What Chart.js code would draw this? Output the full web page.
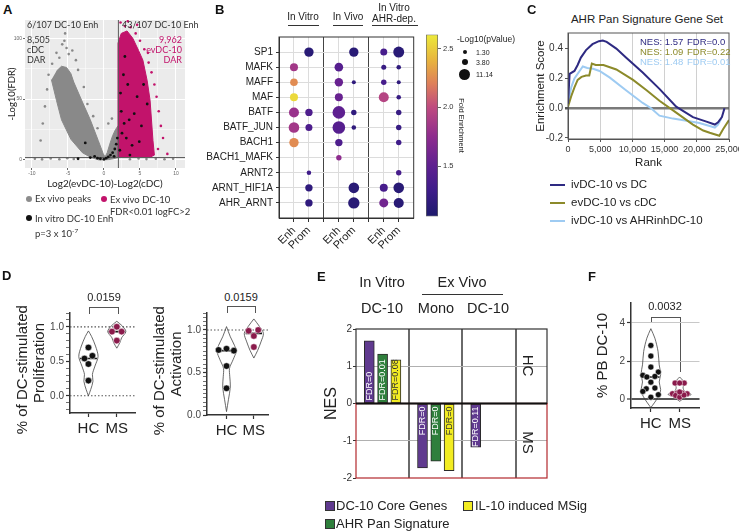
<!DOCTYPE html>
<html>
<head>
<meta charset="utf-8">
<title>DC-10 / AHR figure</title>
<script src="https://cdn.jsdelivr.net/npm/chart.js@4.4.1/dist/chart.umd.min.js"></script>
<style>
  body { margin: 0; width: 739px; height: 531px; position: relative; overflow: hidden; background: #fff;
         font-family: "Liberation Sans", Arial, sans-serif; color: #222; }
  .box { position: absolute; }
  .t { position: absolute; white-space: nowrap; line-height: 1; }
  .c { text-align: center; }
  .letter { font-weight: bold; font-size: 13px; color: #111; }
  .lato { font-family: Lato, "Open Sans", sans-serif; color: #333; }
  .dot { position: absolute; border-radius: 50%; }
  .rule { position: absolute; height: 0; border-top: 1px solid #333; }
  .sq { position: absolute; width: 8px; height: 8px; border: 1px solid #333; }
  .ln { position: absolute; height: 2px; width: 15px; }
  .brk { position: absolute; border: 1px solid #555; border-bottom: none; }
</style>
</head>
<body>

<!-- A -->
<div class="t letter" style="left:3px;top:3px">A</div>
<div class="box" style="left:0;top:10px;width:190px;height:184px"><canvas id="volcano"></canvas></div>
<div class="t lato" style="left:27px;top:20px;font-size:9px">6/107 DC-10 Enh</div>
<div class="t lato" style="left:122px;top:20px;font-size:9px">43/107 DC-10 Enh</div>
<div class="t lato" style="left:27px;top:35px;font-size:9px;line-height:10px">8,505<br>cDC<br>DAR</div>
<div class="t lato" style="right:557px;top:35px;font-size:9px;line-height:10px;text-align:right;color:#c2136b">9,962<br>evDC-10<br>DAR</div>
<div class="dot" style="left:26px;top:196px;width:6px;height:6px;background:#8c8c8c"></div>
<div class="t lato" style="left:35px;top:194px;font-size:9.5px">Ex vivo peaks</div>
<div class="dot" style="left:101px;top:196px;width:6px;height:6px;background:#c2136b"></div>
<div class="t lato" style="left:110px;top:194px;font-size:9.5px;line-height:12px">Ex vivo DC-10<br>FDR&lt;0.01 logFC&gt;2</div>
<div class="dot" style="left:26px;top:215px;width:6px;height:6px;background:#111"></div>
<div class="t lato" style="left:35px;top:213px;font-size:9.5px;line-height:12px">In vitro DC-10 Enh<br>p=3 x 10<span style="font-size:6.5px;vertical-align:4px">-7</span></div>

<!-- B -->
<div class="t letter" style="left:215px;top:3px">B</div>
<div class="t c" style="left:273px;top:12px;width:60px;font-size:10px">In Vitro</div>
<div class="rule" style="left:288px;top:25px;width:31px"></div>
<div class="t c" style="left:318px;top:12px;width:60px;font-size:10px">In Vivo</div>
<div class="rule" style="left:333px;top:25px;width:30px"></div>
<div class="t c" style="left:359px;top:2px;width:70px;font-size:10px;line-height:11px">In Vitro<br>AHR-dep.</div>
<div class="rule" style="left:372px;top:25px;width:46px"></div>
<div class="box" style="left:196px;top:28px;width:224px;height:232px"><canvas id="motifs"></canvas></div>
<div class="box" style="left:420px;top:28px;width:50px;height:195px"><canvas id="foldbar"></canvas></div>
<div class="t" style="left:457px;top:35px;font-size:8.5px">-Log10(pValue)</div>
<div class="dot" style="left:463px;top:50px;width:4px;height:4px;background:#111"></div>
<div class="dot" style="left:462px;top:59px;width:6px;height:6px;background:#111"></div>
<div class="dot" style="left:459px;top:69px;width:11px;height:11px;background:#111"></div>
<div class="t" style="left:476px;top:49px;font-size:7px">1.30</div>
<div class="t" style="left:476px;top:59px;font-size:7px">3.80</div>
<div class="t" style="left:476px;top:71px;font-size:7px">11.14</div>

<!-- C -->
<div class="t letter" style="left:527px;top:3px">C</div>
<div class="t c" style="left:567px;top:14px;width:160px;font-size:11.5px">AHR Pan Signature Gene Set</div>
<div class="box" style="left:530px;top:25px;width:209px;height:147px"><canvas id="gsea"></canvas></div>
<div class="t" style="left:640px;top:37px;font-size:9.5px;color:#2e2a82">NES: 1.57</div>
<div class="t" style="left:687px;top:37px;font-size:9.5px;color:#2e2a82">FDR=0.0</div>
<div class="t" style="left:640px;top:47px;font-size:9.5px;color:#8c8a2a">NES: 1.09</div>
<div class="t" style="left:687px;top:47px;font-size:9.5px;color:#8c8a2a">FDR=0.22</div>
<div class="t" style="left:640px;top:57px;font-size:9.5px;color:#9ecbf2">NES: 1.48</div>
<div class="t" style="left:687px;top:57px;font-size:9.5px;color:#9ecbf2">FDR=0.01</div>
<div class="ln" style="left:550px;top:184px;background:#2e2a82"></div>
<div class="t" style="left:571px;top:179px;font-size:11.5px">ivDC-10 vs DC</div>
<div class="ln" style="left:550px;top:202px;background:#8c8a2a"></div>
<div class="t" style="left:571px;top:197px;font-size:11.5px">evDC-10 vs cDC</div>
<div class="ln" style="left:550px;top:220px;background:#9ecbf2"></div>
<div class="t" style="left:571px;top:215px;font-size:11.5px">ivDC-10 vs AHRinhDC-10</div>

<!-- D -->
<div class="t letter" style="left:2px;top:269px">D</div>
<div class="t c" style="left:79px;top:292px;width:50px;font-size:11px">0.0159</div>
<div class="brk" style="left:89px;top:307px;width:28px;height:6px"></div>
<div class="box" style="left:0;top:305px;width:140px;height:135px"><canvas id="prolif"></canvas></div>
<div class="t c" style="left:216px;top:292px;width:50px;font-size:11px">0.0159</div>
<div class="brk" style="left:227px;top:306px;width:27px;height:6px"></div>
<div class="box" style="left:145px;top:305px;width:128px;height:137px"><canvas id="activ"></canvas></div>

<!-- E -->
<div class="t letter" style="left:317px;top:270px">E</div>
<div class="t c" style="left:347px;top:275px;width:70px;font-size:14.5px">In Vitro</div>
<div class="t c" style="left:427px;top:275px;width:70px;font-size:14.5px">Ex Vivo</div>
<div class="rule" style="left:422px;top:294px;width:81px"></div>
<div class="t c" style="left:347px;top:301px;width:70px;font-size:14.5px">DC-10</div>
<div class="t c" style="left:406px;top:301px;width:60px;font-size:14.5px">Mono</div>
<div class="t c" style="left:458px;top:301px;width:60px;font-size:14.5px">DC-10</div>
<div class="box" style="left:310px;top:320px;width:240px;height:165px"><canvas id="nes"></canvas></div>
<div class="t c" style="left:513px;top:358px;width:30px;font-size:15px;transform:rotate(90deg)">HC</div>
<div class="t c" style="left:513px;top:435px;width:30px;font-size:15px;transform:rotate(90deg)">MS</div>
<div class="sq" style="left:325px;top:501px;background:#603a8f"></div>
<div class="t" style="left:336px;top:499px;font-size:13px">DC-10 Core Genes</div>
<div class="sq" style="left:463px;top:501px;background:#f2ec22"></div>
<div class="t" style="left:475px;top:499px;font-size:13px">IL-10 induced MSig</div>
<div class="sq" style="left:325px;top:519px;background:#2f7f3c"></div>
<div class="t" style="left:336px;top:517px;font-size:13px">AHR Pan Signature</div>

<!-- F -->
<div class="t letter" style="left:588px;top:270px">F</div>
<div class="t c" style="left:640px;top:301px;width:50px;font-size:11px">0.0032</div>
<div style="position:absolute;left:651px;top:317px;width:29px;height:5px;border-top:1px solid #555;border-left:1px solid #555"></div>
<div style="position:absolute;left:680px;top:317px;width:0;height:55px;border-left:1px solid #555"></div>
<div class="box" style="left:590px;top:295px;width:114px;height:140px"><canvas id="pbdc"></canvas></div>

<script>
// ---- A: ex vivo volcano (log2 FC evDC-10 vs cDC, -log10 FDR) ----
const volcX = [-10.97, 11.25];
const volcY = [-6.6, 115];
const volcXTicks = [-10, -7.5, -5, -2.5, 0, 2.5, 5, 7.5, 10];
const volcYTicks = [0, 25, 50, 75, 100];
const logFcCut = 2;
const fdrCut = 2;
// outline of the dense grey (ex vivo peaks) cloud
const grayCloud = [[-7.3,66],[-6.6,49],[-5.9,33],[-4.6,17],[-3.0,6],[-1.8,2],[-0.7,0],[0.6,0.3],[1.3,1],[1.95,2],
  [1.95,28],[1.6,25],[1.2,20],[0.8,13],[0.45,6],[0.15,2.5],[-0.1,5],[-0.8,16],[-1.9,33],[-3.1,49],[-4.2,64],
  [-4.6,71],[-5.2,76],[-5.9,77],[-6.6,73]];
const grayPeaks = [[-5.4,104],[-5.5,98],[-5.2,92],[-4.9,87],[-6.2,84],[-6.6,88],[-5.8,95],[-4.4,90],[-3.9,82],
  [-7.2,79],[-7.7,70],[-3.6,74],[-7.9,58],[-8.2,44],[-8.5,30],[-2.8,60],[-2.3,46],[-1.5,36],[-0.9,26],[-8.8,16],
  [-9.6,1],[-8.6,0.5],[-7.4,1.2],[-6.2,0.6],[-5.1,1.4],[-4.2,0.8],[3.6,0.6],[4.8,1.2],[5.9,0.7],[7.2,1.0],
  [8.4,0.6],[9.6,1.1],[0.6,30],[1.1,34]];
// outline of the dense magenta (ex vivo DC-10 DAR) cloud
const dc10Cloud = [[1.95,2],[1.95,96],[2.4,104],[3.2,106],[4.0,100],[4.8,90],[5.4,82],[6.0,65],[6.4,49],[6.8,16],[7.0,4],[6.3,2]];
const dc10Peaks = [[2.3,113],[2.9,110],[3.7,109],[4.4,104],[5.0,98],[5.6,91],[6.2,80],[6.6,72],[7.0,62],[7.3,52],
  [7.6,40],[7.9,28],[8.2,18],[7.5,9],[8.8,5],[6.1,88],[4.6,111],[3.3,114]];
const invitroEnh = [[-2.6,14],[-1.9,2],[-1.3,3],[-0.9,1.5],[-0.5,1],[0,0.5],[0.3,1.5],[0.6,2.5],[0.9,4],[1.2,6],
  [1.5,9],[1.7,13],[1.85,18],[1.4,3],[-3.6,1],[2.2,8],[2.5,22],[2.8,30],[2.4,40],[3.1,18],[3.5,33],[2.3,55],
  [3.9,12],[4.2,38],[4.6,52],[2.7,70],[3.3,62],[5.2,28],[6.0,46],[4.9,15],[3.6,4],[2.9,85],[5.5,62]];

// ---- B: motif enrichment ----
const motifRows = ['SP1','MAFK','MAFF','MAF','BATF','BATF_JUN','BACH1','BACH1_MAFK','ARNT2','ARNT_HIF1A','AHR_ARNT'];
const peakCols = ['Enh','Prom','Enh','Prom','Enh','Prom'];
const peakColPos = [1, 2, 4, 5, 7, 8];
const foldEnr = [
  [null, 1.15, null, 1.15, 1.35, 1.15],
  [1.85, null, 1.45, null, 1.25, 1.2],
  [2.25, null, 1.55, 1.2, 1.35, 1.2],
  [2.55, null, 1.55, null, 1.95, 1.25],
  [1.8, 1.4, 1.5, 1.2, null, 1.25],
  [1.85, 1.4, 1.45, 1.2, null, 1.25],
  [2.25, null, 1.4, null, null, 1.3],
  [null, null, 1.75, null, null, null],
  [null, 1.3, null, null, null, 1.35],
  [null, 1.2, null, 1.15, 1.35, 1.15],
  [null, 1.2, null, 1.15, 1.6, 1.15]
];
const negLog10P = [
  [null, 8.1, null, 8.1, 4.5, 11.1],
  [5.9, null, 6.8, null, 2.3, 1.9],
  [5.3, null, 6.5, 1.5, 2.7, 1.5],
  [5.9, null, 5.9, null, 9.2, 1.9],
  [9.2, 5.0, 14.6, 2.7, null, 2.7],
  [10.3, 4.5, 14.6, 1.9, null, 2.7],
  [8.1, null, 5.0, null, null, 2.7],
  [null, null, 2.7, null, null, null],
  [null, 1.9, null, null, null, 2.7],
  [null, 5.0, null, 10.3, 5.9, 10.3],
  [null, 5.0, null, 11.9, 7.4, 9.2]
];
const foldRange = [1.07, 2.62];
const foldTicks = [1.5, 2.0, 2.5];

// ---- C: GSEA running enrichment score ----
const rankIv = [0,250,1000,1500,2000,2800,3800,4800,5400,6000,7500,9000,11600,14200,16800,19400,21500,22800,23300,23900,24300];
const esIv   = [0.03,0.23,0.25,0.29,0.34,0.39,0.43,0.45,0.455,0.445,0.40,0.34,0.24,0.13,0.01,-0.06,-0.09,-0.11,-0.095,-0.06,0.0];
const rankEv = [0,500,1000,1500,2100,2800,3300,3700,4300,5500,7500,10100,12200,14200,16800,19400,21000,22000,23500,24100,25000];
const esEv   = [0.01,0.08,0.14,0.19,0.21,0.22,0.22,0.30,0.29,0.29,0.26,0.19,0.12,0.05,-0.03,-0.11,-0.15,-0.165,-0.185,-0.14,-0.08];
const rankAhr = [0,500,1000,1800,2300,3000,3900,4900,6500,9000,11600,12900,14200,16300,18400,20400,22000,22800,23300,23800];
const esAhr   = [0.03,0.14,0.2,0.25,0.28,0.27,0.265,0.25,0.205,0.12,0.035,0.0,-0.05,-0.07,-0.085,-0.1,-0.12,-0.13,-0.11,-0.07];
const rankTicks = [0, 5000, 10000, 15000, 20000, 25000];
const esTicks = [-0.2, 0, 0.2, 0.4];

// ---- D: T cell responses (fraction of DC-stimulated) ----
const groupNames = ['HC', 'MS'];
const prolifHC = [0.70, 0.58, 0.54, 0.46, 0.22];
const prolifHCJit = [0, 0.14, -0.14, 0, 0];
const prolifMS = [1.0, 0.93, 0.93, 0.80];
const prolifMSJit = [0, -0.17, 0.17, 0];
const prolifHCShape = [[0,0],[0.09,0.08],[0.21,0.16],[0.31,0.14],[0.43,0.23],[0.57,0.34],[0.72,0.25],[0.86,0.11],[0.94,0]];
const prolifMSShape = [[0.69,0],[0.77,0.11],[0.84,0.17],[0.93,0.32],[1.01,0.2],[1.08,0]];
const prolifTicks = [-0.2,-0.1,0,0.1,0.2,0.3,0.4,0.5,0.6,0.7,0.8,0.9,1.0,1.1,1.2];
const activHC = [0.78, 0.765, 0.757, 0.576, 0.314];
const activHCJit = [0, -0.29, 0.27, 0, 0];
const activMS = [0.99, 1.0, 0.93, 0.80];
const activMSJit = [-0.19, 0.16, 0, 0];
const activHCShape = [[0.04,0],[0.18,0.07],[0.33,0.14],[0.45,0.12],[0.55,0.11],[0.65,0.24],[0.75,0.35],[0.82,0.29],[0.92,0.14],[1.04,0]];
const activMSShape = [[0.67,0],[0.76,0.14],[0.86,0.26],[0.96,0.35],[1.04,0.21],[1.13,0]];
const activTicks = [0,0.05,0.1,0.15,0.2,0.25,0.3,0.35,0.4,0.45,0.5,0.55,0.6,0.65,0.7,0.75,0.8,0.85,0.9,0.95,1.0,1.05,1.1,1.15,1.2];

// ---- E: NES per gene set ----
const nesSets = ['DC-10 Core Genes', 'AHR Pan Signature', 'IL-10 induced MSig'];
const nesCore = [1.68, -1.73, -1.17];
const nesAhr = [1.33, -1.55, null];
const nesIl10 = [1.17, -1.80, null];
const fdrCore = ['FDR=0', 'FDR=0', 'FDR=0.11'];
const fdrAhr = ['FDR=0.01', 'FDR=0', ''];
const fdrIl10 = ['FDR=0.08', 'FDR=0', ''];
const nesTicks = [-2, -1, 0, 1, 2];

// ---- F: % PB DC-10 ----
const pbHC = [2.82, 2.26, 1.68, 1.42, 1.25, 1.16, 1.19, 0.89, 0.54, 0.58, 0.40, 0.23, 0.10];
const pbHCJit = [0, 0, 0, 0.26, -0.28, -0.14, 0.14, 0, -0.16, 0.14, -0.28, 0.26, 0];
const pbMS = [0.84, 0.84, 0.84, 0.28, 0.32, 0.32, 0.28, 0.19, 0.10, 0.21, 0.37];
const pbMSJit = [-0.16, 0.16, 0, -0.25, -0.08, 0.09, 0.26, -0.14, 0, 0.15, 0];
const pbHCShape = [[-0.45,0],[-0.2,0.12],[0,0.21],[0.25,0.3],[0.5,0.34],[0.9,0.29],[1.3,0.34],[1.8,0.29],[2.5,0.25],[3.2,0.14],[3.7,0]];
const pbMSShape = [[-0.12,0],[0.1,0.2],[0.25,0.4],[0.4,0.18],[0.6,0.12],[0.85,0.17],[1.0,0.1],[1.16,0]];
const pbTicks = [0, 2, 4];

// colour scale for fold enrichment
const foldStops = [[1.07,'#1d1a6c'],[1.3,'#3f1c8a'],[1.5,'#5e2090'],[1.75,'#8e2c8e'],[2.0,'#bf4b80'],[2.2,'#de7f5a'],[2.4,'#e8b43e'],[2.62,'#ecea3a']];
const maroon = '#8a1a4b';

Chart.defaults.font.family = '"Liberation Sans", Arial, sans-serif';
Chart.defaults.font.size = 10;
Chart.defaults.color = '#333';
Chart.defaults.animation = false;
Chart.defaults.maintainAspectRatio = false;
Chart.defaults.plugins.legend.display = false;
Chart.defaults.plugins.tooltip.enabled = false;

const fixTicks = vals => scale => { scale.ticks = vals.map(v => ({ value: v })); };
const fixW = w => s => { s.width = w; };
const fixH = h => s => { s.height = h; };
const pts = arr => arr.map(([x, y]) => ({ x, y }));
const isMult = (v, m) => Math.abs(v / m - Math.round(v / m)) < 1e-6;
const none = 'rgba(0,0,0,0)';

function median(vals) {
  const s = vals.slice().sort((a, b) => a - b);
  const m = Math.floor(s.length / 2);
  return s.length % 2 ? s[m] : (s[m - 1] + s[m]) / 2;
}
function hexToRgb(h) { return [1, 3, 5].map(i => parseInt(h.substr(i, 2), 16)); }
function foldColor(f) {
  for (let i = 1; i < foldStops.length; i++) {
    const [v0, c0] = foldStops[i - 1], [v1, c1] = foldStops[i];
    if (f <= v1 || i === foldStops.length - 1) {
      const t = Math.max(0, Math.min(1, (f - v0) / (v1 - v0)));
      const a = hexToRgb(c0), b = hexToRgb(c1);
      return 'rgb(' + a.map((x, k) => Math.round(x + (b[k] - x) * t)).join(',') + ')';
    }
  }
}

const plotBg = {
  id: 'plotBg',
  beforeDraw(chart, args, opts) {
    if (!opts.color) return;
    const { ctx, chartArea: a } = chart;
    ctx.save();
    ctx.fillStyle = opts.color;
    ctx.fillRect(a.left, a.top, a.width, a.height);
    ctx.restore();
  }
};
const frame = {
  id: 'frame',
  afterDraw(chart, args, opts) {
    if (!opts.color) return;
    const { ctx, chartArea: a } = chart;
    ctx.save();
    ctx.strokeStyle = opts.color;
    ctx.lineWidth = opts.width || 1;
    ctx.strokeRect(a.left, a.top, a.width, a.height);
    ctx.restore();
  }
};
Chart.register(plotBg, frame);

// ---------- A ----------
new Chart(document.getElementById('volcano'), {
  type: 'scatter',
  data: { datasets: [
    { label: 'In vitro DC-10 Enh', data: pts(invitroEnh), pointBackgroundColor: '#111', pointBorderWidth: 0, pointRadius: 1.4, order: 0 },
    { data: [{ x: logFcCut, y: volcY[0] }, { x: logFcCut, y: volcY[1] }], showLine: true, borderColor: '#5a5a5a', borderWidth: 1, pointRadius: 0, order: 1 },
    { data: [{ x: volcX[0], y: fdrCut }, { x: volcX[1], y: fdrCut }], showLine: true, borderColor: '#5a5a5a', borderWidth: 1, pointRadius: 0, order: 1 },
    { label: 'Ex vivo DC-10', data: pts(dc10Peaks), pointBackgroundColor: '#c2136b', pointBorderWidth: 0, pointRadius: 1.3, order: 2 },
    { data: pts(dc10Cloud), showLine: true, fill: 'shape', backgroundColor: '#c2136b', borderColor: '#c2136b', borderWidth: 1, pointRadius: 0, order: 3 },
    { label: 'Ex vivo peaks', data: pts(grayPeaks), pointBackgroundColor: '#888', pointBorderWidth: 0, pointRadius: 1.3, order: 4 },
    { data: pts(grayCloud), showLine: true, fill: 'shape', backgroundColor: '#898989', borderColor: '#898989', borderWidth: 1, pointRadius: 0, order: 5 }
  ]},
  options: {
    layout: { padding: { top: 10, right: 5 } },
    plugins: { plotBg: { color: '#ebebeb' } },
    scales: {
      x: {
        min: volcX[0], max: volcX[1], afterBuildTicks: fixTicks(volcXTicks),
        ticks: { font: { size: 5 }, color: '#666', padding: 1, maxRotation: 0, callback: v => isMult(v, 5) ? v : '' },
        grid: { color: '#fff', lineWidth: c => c.tick && isMult(c.tick.value, 5) ? 1 : 0.5, tickLength: 2,
                tickColor: c => c.tick && isMult(c.tick.value, 5) ? '#666' : none },
        border: { display: false },
        title: { display: true, text: 'Log2(evDC-10)-Log2(cDC)', font: { size: 10, family: 'Lato' }, color: '#222', padding: { top: 0, bottom: 4 } },
        afterFit: fixH(26)
      },
      y: {
        min: volcY[0], max: volcY[1], afterBuildTicks: fixTicks(volcYTicks),
        ticks: { font: { size: 5 }, color: '#666', padding: 1, callback: v => isMult(v, 50) ? v : '' },
        grid: { color: '#fff', lineWidth: c => c.tick && isMult(c.tick.value, 50) ? 1 : 0.5, tickLength: 2,
                tickColor: c => c.tick && isMult(c.tick.value, 50) ? '#666' : none },
        border: { display: false },
        title: { display: true, text: '-Log10(FDR)', font: { size: 9.5, family: 'Lato' }, color: '#222', padding: { top: 6, bottom: 0 } },
        afterFit: fixW(25)
      }
    }
  }
});

// ---------- B ----------
const bubbles = [];
motifRows.forEach((name, i) => peakColPos.forEach((x, j) => {
  const f = foldEnr[i][j];
  if (f === null) return;
  bubbles.push({ x, y: i + 1, r: 1.65 * Math.sqrt(negLog10P[i][j]), f });
}));
new Chart(document.getElementById('motifs'), {
  type: 'bubble',
  data: { datasets: [{ data: bubbles, backgroundColor: c => c.raw ? foldColor(c.raw.f) : '#000', borderWidth: 0 }] },
  options: {
    layout: { padding: { top: 4, right: 3 } },
    plugins: { frame: { color: '#333' } },
    scales: {
      x: {
        type: 'linear', min: 0, max: 9, afterBuildTicks: fixTicks([1, 2, 3, 4, 5, 6, 7, 8]),
        ticks: { autoSkip: false, minRotation: 45, maxRotation: 45, font: { size: 11 }, color: '#222', padding: 2,
                 callback: v => { const j = peakColPos.indexOf(v); return j >= 0 ? peakCols[j] : ''; } },
        grid: { color: c => c.tick && (c.tick.value === 3 || c.tick.value === 6) ? '#444' : '#dcdcdc',
                tickLength: 4, tickColor: '#333' },
        border: { color: '#333' },
        afterFit: fixH(42)
      },
      y: {
        type: 'linear', reverse: true, min: 0, max: 12, afterBuildTicks: fixTicks([1, 2, 3, 4, 5, 6, 7, 8, 9, 10, 11]),
        ticks: { autoSkip: false, font: { size: 10 }, color: '#222', padding: 3, callback: v => motifRows[v - 1] || '' },
        grid: { color: '#dcdcdc', tickLength: 3, tickColor: '#333' },
        border: { color: '#333' },
        afterFit: fixW(83)
      }
    }
  }
});

function foldGradient(chart) {
  const { ctx, chartArea, scales } = chart;
  if (!chartArea) return '#5e2090';
  const y = scales.y;
  const g = ctx.createLinearGradient(0, y.getPixelForValue(foldRange[0]), 0, y.getPixelForValue(foldRange[1]));
  foldStops.forEach(([v, col]) => g.addColorStop((v - foldRange[0]) / (foldRange[1] - foldRange[0]), col));
  return g;
}
new Chart(document.getElementById('foldbar'), {
  type: 'bar',
  data: { labels: [''], datasets: [{ data: [foldRange], backgroundColor: c => foldGradient(c.chart), borderColor: '#666', borderWidth: 1,
          borderSkipped: false, barPercentage: 1, categoryPercentage: 1 }] },
  options: {
    layout: { padding: { left: 6, top: 5, bottom: 6 } },
    scales: {
      x: { display: false },
      y: {
        position: 'right', min: foldRange[0], max: foldRange[1], afterBuildTicks: fixTicks(foldTicks),
        ticks: { font: { size: 7.5 }, color: '#333', padding: 2, callback: v => v.toFixed(1) },
        grid: { drawOnChartArea: false, tickLength: 3, tickColor: '#666' },
        border: { display: false },
        title: { display: true, text: 'Fold Enrichment', font: { size: 7.5 }, color: '#222', padding: { top: 4, bottom: 0 } },
        afterFit: fixW(32)
      }
    }
  }
});

// ---------- C ----------
const toXY = (xs, ys) => xs.map((x, i) => ({ x, y: ys[i] }));
new Chart(document.getElementById('gsea'), {
  type: 'scatter',
  data: { datasets: [
    { label: 'ivDC-10 vs DC', data: toXY(rankIv, esIv), showLine: true, borderColor: '#2e2a82', borderWidth: 2, pointRadius: 0 },
    { label: 'evDC-10 vs cDC', data: toXY(rankEv, esEv), showLine: true, borderColor: '#8c8a2a', borderWidth: 2, pointRadius: 0 },
    { label: 'ivDC-10 vs AHRinhDC-10', data: toXY(rankAhr, esAhr), showLine: true, borderColor: '#9ecbf2', borderWidth: 2, pointRadius: 0 }
  ]},
  options: {
    layout: { padding: { top: 7, right: 10 } },
    plugins: { frame: { color: '#555' } },
    scales: {
      x: {
        min: 0, max: 25000, afterBuildTicks: fixTicks(rankTicks),
        ticks: { font: { size: 9 }, color: '#333', padding: 2, maxRotation: 0, autoSkip: false },
        grid: { color: c => c.tick && c.tick.value > 0 && c.tick.value < 25000 ? '#d0d0d0' : none, tickLength: 3, tickColor: '#555' },
        border: { color: '#555' },
        title: { display: true, text: 'Rank', font: { size: 11.5 }, color: '#222', padding: { top: 0, bottom: 2 } },
        afterFit: s => { s.height = 33; s.paddingRight = 0; s.paddingLeft = 0; }
      },
      y: {
        min: -0.207, max: 0.505, afterBuildTicks: fixTicks(esTicks),
        ticks: { font: { size: 10 }, color: '#333', padding: 2, callback: v => v.toFixed(1) },
        grid: { color: c => c.tick && c.tick.value === 0 ? '#7a7a7a' : none, lineWidth: c => c.tick && c.tick.value === 0 ? 2.5 : 1,
                tickLength: 3, tickColor: '#555' },
        border: { color: '#555' },
        title: { display: true, text: 'Enrichment Score', font: { size: 11.5 }, color: '#222', padding: { top: 4, bottom: 0 } },
        afterFit: fixW(38)
      }
    }
  }
});

// ---------- D / F violins ----------
function violinChart(id, g) {
  const datasets = [];
  g.groups.forEach((grp, k) => {
    const right = grp.shape.map(([y, w]) => ({ x: k + w, y }));
    const left = grp.shape.slice().reverse().map(([y, w]) => ({ x: k - w, y }));
    datasets.push({ data: right.concat(left), showLine: true, borderColor: '#444', borderWidth: 0.8, pointRadius: 0, tension: 0.3, order: 3 });
    const m = median(grp.vals);
    datasets.push({ data: [{ x: k - 0.3, y: m }, { x: k + 0.3, y: m }], showLine: true, borderColor: '#111', borderWidth: 1.6, pointRadius: 0, order: 1 });
    datasets.push({ label: groupNames[k], data: grp.vals.map((v, i) => ({ x: k + grp.jit[i], y: v })),
                    pointBackgroundColor: grp.color, pointBorderColor: '#fff', pointBorderWidth: 0.5, pointRadius: g.r, order: 0 });
  });
  g.refLines.forEach(v => datasets.push({ data: [{ x: g.xRange[0], y: v }, { x: g.xRange[1], y: v }], showLine: true,
    borderColor: '#555', borderWidth: 1.2, borderDash: [1.5, 2], pointRadius: 0, order: 4 }));
  return new Chart(document.getElementById(id), {
    type: 'scatter',
    data: { datasets },
    options: {
      layout: { padding: g.pad },
      scales: {
        x: {
          min: g.xRange[0], max: g.xRange[1], afterBuildTicks: fixTicks([0, 1]),
          ticks: { callback: v => groupNames[v], font: { size: 15 }, color: '#222', padding: 3, maxRotation: 0, autoSkip: false },
          grid: { drawOnChartArea: false, tickLength: 4, tickColor: '#333', tickWidth: 1.2 },
          border: { color: '#333', width: 1.5 },
          afterFit: fixH(27)
        },
        y: {
          min: g.yRange[0], max: g.yRange[1], afterBuildTicks: fixTicks(g.yTicks),
          ticks: { callback: v => isMult(v, g.major) ? g.fmt(v) : '', font: { size: 10 }, color: '#444', padding: 2, autoSkip: false },
          grid: { drawOnChartArea: !!g.gridColor, color: g.gridColor || none, lineWidth: g.gridWidth || 1, tickLength: 4, tickColor: '#333',
                  tickWidth: c => c.tick && isMult(c.tick.value, g.major) ? 1.2 : 0.7 },
          border: { color: '#333', width: 1.5 },
          title: { display: true, text: g.title, font: { size: 15, lineHeight: 1.13 }, color: '#222', padding: { top: g.titlePad, bottom: 0 } },
          afterFit: fixW(g.axisW)
        }
      }
    }
  });
}

violinChart('prolif', {
  groups: [
    { vals: prolifHC, jit: prolifHCJit, shape: prolifHCShape, color: '#111' },
    { vals: prolifMS, jit: prolifMSJit, shape: prolifMSShape, color: maroon }
  ],
  xRange: [-0.65, 1.66], yRange: [-0.25, 1.2], yTicks: prolifTicks, major: 0.5, fmt: v => v.toFixed(1),
  refLines: [0, 1], title: ['% of DC-stimulated T', 'Proliferation'], titlePad: 14, axisW: 70,
  pad: { top: 8, right: 3 }, r: 3.3
});

violinChart('activ', {
  groups: [
    { vals: activHC, jit: activHCJit, shape: activHCShape, color: '#111' },
    { vals: activMS, jit: activMSJit, shape: activMSShape, color: maroon }
  ],
  xRange: [-0.714, 1.536], yRange: [0, 1.2], yTicks: activTicks, major: 0.5, fmt: v => v.toFixed(1),
  refLines: [1], title: ['% of DC-stimulated T', 'Activation'], titlePad: 6.5, axisW: 62,
  pad: { top: 8, right: 3 }, r: 3.3
});

violinChart('pbdc', {
  groups: [
    { vals: pbHC, jit: pbHCJit, shape: pbHCShape, color: '#111' },
    { vals: pbMS, jit: pbMSJit, shape: pbMSShape, color: maroon }
  ],
  xRange: [-0.69, 1.69], yRange: [-0.47, 5.05], yTicks: pbTicks, major: 2, fmt: v => String(v),
  refLines: [], title: '% PB DC-10', titlePad: 4.5, axisW: 41,
  gridColor: c => !c.tick ? none : c.tick.value === 0 ? '#555' : '#c8c8c8',
  gridWidth: c => c.tick && c.tick.value === 0 ? 2 : 1,
  pad: { top: 8, right: 4 }, r: 3
});

// ---------- E ----------
const nesSeries = [nesCore, nesAhr, nesIl10];
const fdrSeries = [fdrCore, fdrAhr, fdrIl10];
const nesColors = ['#603a8f', '#2f7f3c', '#f2ec22'];
const nesTextColors = ['#fff', '#fff', '#333'];
const nesBarText = {
  id: 'nesBarText',
  afterDatasetsDraw(chart) {
    const { ctx, chartArea: a, scales: { y } } = chart;
    const z = y.getPixelForValue(0);
    ctx.save();
    ctx.lineWidth = 1.2;
    ctx.strokeStyle = '#333';
    ctx.strokeRect(a.left, a.top, a.width, z - a.top);
    ctx.strokeStyle = '#b3282d';
    ctx.strokeRect(a.left, z, a.width, a.bottom - z);
    ctx.strokeStyle = '#111';
    ctx.lineWidth = 2;
    ctx.beginPath(); ctx.moveTo(a.left, z); ctx.lineTo(a.right, z); ctx.stroke();
    ctx.font = '9px "Liberation Sans", Arial, sans-serif';
    ctx.textBaseline = 'middle';
    chart.data.datasets.forEach((ds, i) => {
      chart.getDatasetMeta(i).data.forEach((bar, j) => {
        const p = ds.data[j];
        const up = p.y > 0;
        ctx.save();
        ctx.translate(bar.x, z + (up ? -3 : 3));
        ctx.rotate(-Math.PI / 2);
        ctx.textAlign = up ? 'left' : 'right';
        ctx.fillStyle = ds.textColor;
        ctx.fillText(p.fdr, 0, 0);
        ctx.restore();
      });
    });
    ctx.restore();
  }
};
new Chart(document.getElementById('nes'), {
  type: 'bar',
  data: { datasets: nesSets.map((name, s) => ({
    label: name,
    data: nesSeries[s].map((v, col) => v === null ? null : { x: col * 4 + s + 1, y: v, fdr: fdrSeries[s][col] }).filter(p => p),
    backgroundColor: nesColors[s], borderColor: '#2a2a2a', borderWidth: 1, borderSkipped: false,
    barThickness: 10, grouped: false, textColor: nesTextColors[s]
  })) },
  options: {
    layout: { padding: { top: 9, right: 3, bottom: 6 } },
    scales: {
      x: {
        type: 'linear', offset: false, min: 0, max: 14.36, afterBuildTicks: fixTicks([4, 8, 12]),
        ticks: { display: false },
        grid: { offset: false, color: '#6a6a6a', lineWidth: 2, drawTicks: false },
        border: { display: false },
        afterFit: fixH(0)
      },
      y: {
        min: -2, max: 2, afterBuildTicks: fixTicks(nesTicks),
        ticks: { font: { size: 10 }, color: '#333', padding: 1, callback: v => String(v) },
        grid: { color: c => c.tick && Math.abs(c.tick.value) === 1 ? '#b0b0b0' : none, tickLength: 3, tickColor: '#333' },
        border: { display: false },
        title: { display: true, text: 'NES', font: { size: 16 }, color: '#222', padding: { top: 12, bottom: 0 } },
        afterFit: fixW(46)
      }
    }
  },
  plugins: [nesBarText]
});
</script>
</body>
</html>
